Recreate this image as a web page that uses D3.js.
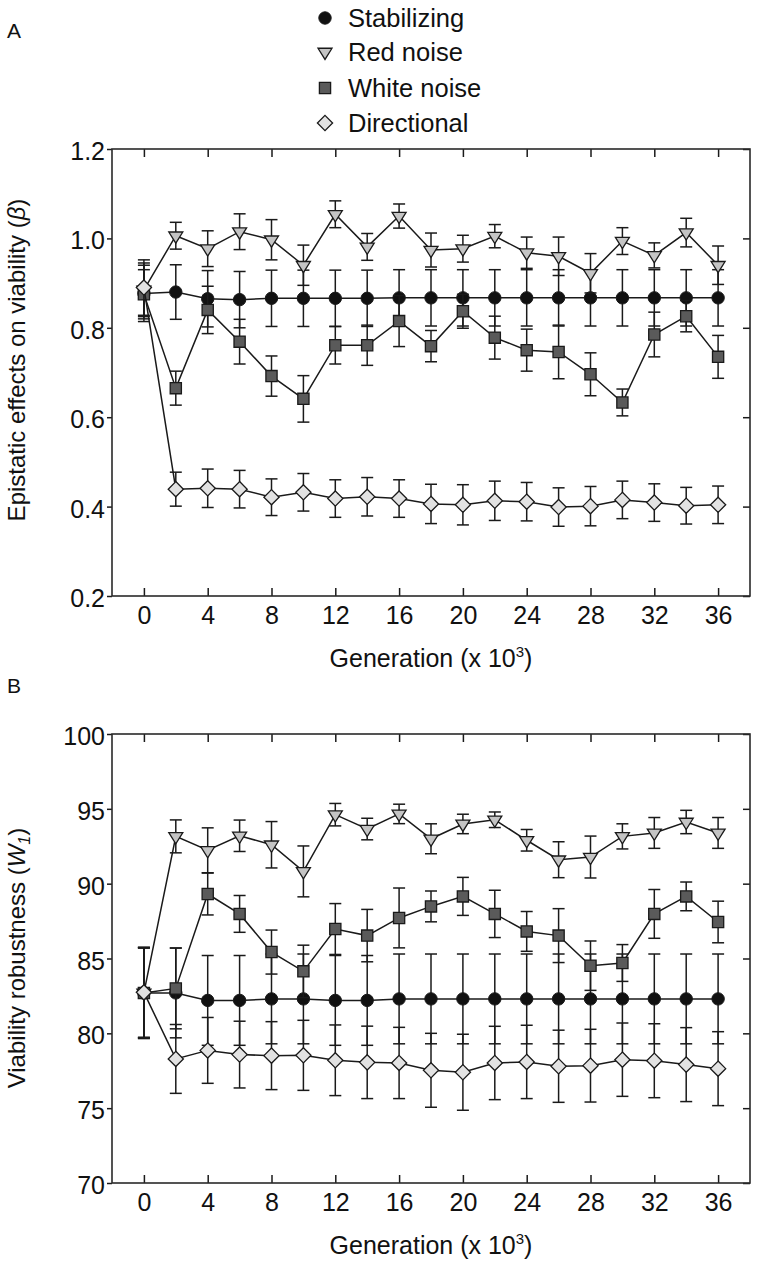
<!DOCTYPE html>
<html>
<head>
<meta charset="utf-8">
<script src="https://cdn.jsdelivr.net/npm/d3@7"></script>
<style>
  html, body { margin: 0; padding: 0; background: #fff; }
  svg { display: block; font-family: "Liberation Sans", Arial, sans-serif; }
</style>
</head>
<body>
<svg id="chart" width="759" height="1271"></svg>
<script>
// ---------- DATA ----------
const generations = [0, 2, 4, 6, 8, 10, 12, 14, 16, 18, 20, 22, 24, 26, 28, 30, 32, 34, 36];
const xTickValues = [0, 4, 8, 12, 16, 20, 24, 28, 32, 36];
const seriesNames = ["Stabilizing", "Red noise", "White noise", "Directional"];

// Panel A: epistatic effects on viability (beta)
const stabA    = [0.877, 0.880, 0.865, 0.863, 0.866, 0.866, 0.866, 0.866, 0.867, 0.867, 0.867, 0.867, 0.867, 0.867, 0.867, 0.867, 0.867, 0.867, 0.867];
const stabAErr = [0.063, 0.061, 0.063, 0.063, 0.063, 0.063, 0.063, 0.063, 0.063, 0.063, 0.063, 0.063, 0.063, 0.063, 0.063, 0.063, 0.063, 0.063, 0.063];
const redA     = [0.885, 1.006, 0.977, 1.015, 0.997, 0.940, 1.054, 0.981, 1.050, 0.974, 0.977, 1.005, 0.968, 0.960, 0.922, 0.994, 0.962, 1.013, 0.940];
const redAErr  = [0.060, 0.030, 0.040, 0.040, 0.045, 0.045, 0.030, 0.030, 0.027, 0.038, 0.030, 0.026, 0.035, 0.043, 0.044, 0.030, 0.028, 0.032, 0.043];
const whiteA   = [0.875, 0.665, 0.840, 0.769, 0.692, 0.641, 0.761, 0.761, 0.815, 0.759, 0.837, 0.778, 0.750, 0.746, 0.696, 0.633, 0.785, 0.826, 0.735];
const whiteAErr= [0.055, 0.038, 0.053, 0.050, 0.045, 0.052, 0.042, 0.045, 0.057, 0.035, 0.038, 0.048, 0.047, 0.060, 0.048, 0.030, 0.050, 0.035, 0.048];
const dirA     = [0.890, 0.439, 0.441, 0.439, 0.421, 0.432, 0.418, 0.422, 0.418, 0.406, 0.404, 0.413, 0.411, 0.399, 0.401, 0.415, 0.409, 0.402, 0.404];
const dirAErr  = [0.062, 0.038, 0.043, 0.042, 0.041, 0.042, 0.042, 0.043, 0.042, 0.044, 0.045, 0.044, 0.043, 0.043, 0.044, 0.042, 0.042, 0.041, 0.042];
const yTicksA  = [0.2, 0.4, 0.6, 0.8, 1.0, 1.2];

// Panel B: viability robustness (W1)
const stabB    = [82.7, 82.7, 82.2, 82.2, 82.3, 82.3, 82.2, 82.2, 82.3, 82.3, 82.3, 82.3, 82.3, 82.3, 82.3, 82.3, 82.3, 82.3, 82.3];
const stabBErr = [3.05, 3.0, 3.0, 3.0, 3.0, 3.0, 3.0, 3.0, 3.0, 3.0, 3.0, 3.0, 3.0, 3.0, 3.0, 3.0, 3.0, 3.0, 3.0];
const redB     = [82.7, 93.16, 92.23, 93.2, 92.6, 90.82, 94.61, 93.65, 94.66, 93.0, 93.99, 94.27, 92.9, 91.6, 91.78, 93.16, 93.39, 94.12, 93.39];
const redBErr  = [3.0, 1.1, 1.5, 1.05, 1.55, 1.7, 0.75, 0.72, 0.65, 1.0, 0.65, 0.52, 0.72, 1.2, 1.4, 0.84, 1.03, 0.78, 1.03];
const whiteB   = [82.7, 83.0, 89.31, 87.98, 85.43, 84.14, 86.97, 86.53, 87.71, 88.48, 89.15, 87.98, 86.81, 86.53, 84.52, 84.7, 87.98, 89.15, 87.44];
const whiteBErr= [3.0, 2.7, 1.4, 1.23, 1.47, 1.75, 1.7, 1.75, 2.0, 1.03, 1.27, 1.58, 1.33, 1.8, 1.65, 1.23, 1.63, 0.96, 1.39];
const dirB     = [82.74, 78.29, 78.86, 78.58, 78.51, 78.53, 78.2, 78.06, 78.02, 77.53, 77.4, 78.02, 78.09, 77.8, 77.84, 78.24, 78.17, 77.91, 77.64];
const dirBErr  = [3.0, 2.3, 2.2, 2.23, 2.27, 2.34, 2.36, 2.42, 2.38, 2.47, 2.54, 2.45, 2.45, 2.41, 2.43, 2.45, 2.47, 2.47, 2.47];
const yTicksB  = [70, 75, 80, 85, 90, 95, 100];

// ---------- STYLE ----------
const styles = [
  { shape: "circle",   fill: "#111111", size: 6.2 },
  { shape: "triangle", fill: "#c4c4c4", size: 7 },
  { shape: "square",   fill: "#5a5a5a", size: 5.6 },
  { shape: "diamond",  fill: "#e2e2e2", size: 7.6 }
];
const ink = "#1a1a1a";

const svg = d3.select("#chart");

function markerPath(shape, s) {
  if (shape === "circle") return null;
  if (shape === "square") return `M${-s},${-s}H${s}V${s}H${-s}Z`;
  if (shape === "diamond") return `M0,${-s}L${s},0L0,${s}L${-s},0Z`;
  if (shape === "triangle") { const h = s * 1.6; return `M${-s},${-h/3}L${s},${-h/3}L0,${2*h/3}Z`; }
}

function drawMarker(g, st, cx, cy) {
  if (st.shape === "circle") {
    g.append("circle").attr("cx", cx).attr("cy", cy).attr("r", st.size)
      .attr("fill", st.fill).attr("stroke", ink).attr("stroke-width", 1);
  } else {
    g.append("path").attr("d", markerPath(st.shape, st.size))
      .attr("transform", `translate(${cx},${cy})`)
      .attr("fill", st.fill).attr("stroke", ink).attr("stroke-width", 1.3);
  }
}

const x = d3.scaleLinear().domain([-2, 38]).range([112, 750]);

function panel(cfg) {
  const { y, series, yTicks, fmt, top, bottom } = cfg;
  const g = svg.append("g");

  // series
  series.forEach((s, i) => {
    const st = styles[i];
    const sg = g.append("g");
    const pts = generations.map((gen, k) => ({ gen, v: s.v[k], e: s.e[k] }));
    // error bars
    pts.forEach(p => {
      const xx = x(p.gen), y1 = y(p.v + p.e), y2 = y(p.v - p.e);
      sg.append("line").attr("x1", xx).attr("x2", xx).attr("y1", y1).attr("y2", y2)
        .attr("stroke", ink).attr("stroke-width", 1.5);
      [y1, y2].forEach(yy => sg.append("line").attr("x1", xx - 6).attr("x2", xx + 6)
        .attr("y1", yy).attr("y2", yy).attr("stroke", ink).attr("stroke-width", 1.5));
    });
    // line
    sg.append("path").datum(pts)
      .attr("d", d3.line().x(p => x(p.gen)).y(p => y(p.v)))
      .attr("fill", "none").attr("stroke", ink).attr("stroke-width", 1.5);
    // markers
    pts.forEach(p => drawMarker(sg, st, x(p.gen), y(p.v)));
  });

  // axes
  const axB = g.append("g").attr("transform", `translate(0,${bottom})`)
    .call(d3.axisBottom(x).tickValues(xTickValues).tickSize(-8).tickPadding(10).tickFormat(d3.format("d")));
  const axT = g.append("g").attr("transform", `translate(0,${top})`)
    .call(d3.axisTop(x).tickValues(xTickValues).tickSize(-8).tickFormat(""));
  const axL = g.append("g").attr("transform", `translate(112,0)`)
    .call(d3.axisLeft(y).tickValues(yTicks).tickSize(5).tickPadding(2).tickFormat(fmt));
  const axR = g.append("g").attr("transform", `translate(750,0)`)
    .call(d3.axisRight(y).tickValues(yTicks).tickSize(-7).tickFormat(""));
  [axB, axT, axL, axR].forEach(a => {
    a.select(".domain").remove();
    a.selectAll(".tick line").attr("stroke", ink).attr("stroke-width", 1.5);
    a.selectAll("text").attr("font-size", 25).attr("fill", "#111")
      .attr("font-family", '"Liberation Sans", Arial, sans-serif');
  });
  axL.selectAll("text").attr("dy", "0.42em");
  // frame
  g.append("rect").attr("x", 112).attr("y", top).attr("width", 750 - 112).attr("height", bottom - top)
    .attr("fill", "none").attr("stroke", "#2a2a2a").attr("stroke-width", 1.6);

  // x title
  const xt = g.append("text").attr("x", 431).attr("y", bottom + 71)
    .attr("text-anchor", "middle").attr("font-size", 25).attr("fill", "#111");
  xt.append("tspan").text("Generation (x 10");
  xt.append("tspan").attr("dy", -10).attr("font-size", 15).text("3");
  xt.append("tspan").attr("dy", 10).text(")");
  return g;
}

// Panel A
const yA = d3.scaleLinear().domain([0.2, 1.2]).range([596, 149]);
panel({
  y: yA, top: 149, bottom: 596, yTicks: yTicksA, fmt: d3.format(".1f"),
  series: [
    { v: stabA, e: stabAErr }, { v: redA, e: redAErr },
    { v: whiteA, e: whiteAErr }, { v: dirA, e: dirAErr }
  ]
});
// Panel B
const yB = d3.scaleLinear().domain([70, 100]).range([1183, 734]);
panel({
  y: yB, top: 734, bottom: 1183, yTicks: yTicksB, fmt: d3.format("d"),
  series: [
    { v: stabB, e: stabBErr }, { v: redB, e: redBErr },
    { v: whiteB, e: whiteBErr }, { v: dirB, e: dirBErr }
  ]
});

// y titles
const ytA = svg.append("text").attr("transform", "translate(25,360) rotate(-90)")
  .attr("text-anchor", "middle").attr("font-size", 24).attr("fill", "#111");
ytA.append("tspan").text("Epistatic effects on viability (");
ytA.append("tspan").attr("font-style", "italic").text("β");
ytA.append("tspan").text(")");

const ytB = svg.append("text").attr("transform", "translate(25,958) rotate(-90)")
  .attr("text-anchor", "middle").attr("font-size", 24).attr("fill", "#111");
ytB.append("tspan").text("Viability robustness (");
ytB.append("tspan").attr("font-style", "italic").text("W");
ytB.append("tspan").attr("font-style", "italic").attr("font-size", 16).attr("dy", 5).text("1");
ytB.append("tspan").attr("dy", -5).text(")");

// panel letters
svg.append("text").attr("x", 7).attr("y", 38).attr("font-size", 21).attr("fill", "#111").text("A");
svg.append("text").attr("x", 7).attr("y", 693).attr("font-size", 21).attr("fill", "#111").text("B");

// legend
const legendY = [18, 52, 88, 123];
const lg = svg.append("g");
seriesNames.forEach((name, i) => {
  drawMarker(lg, styles[i], 325, legendY[i]);
  lg.append("text").attr("x", 348).attr("y", legendY[i]).attr("dy", "0.36em")
    .attr("font-size", 25.5).attr("fill", "#111").text(name);
});
</script>
</body>
</html>
